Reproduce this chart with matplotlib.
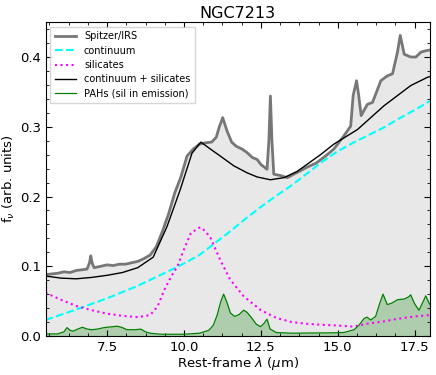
import matplotlib
matplotlib.use("Agg")
import matplotlib.pyplot as plt
from matplotlib.ticker import AutoMinorLocator
import numpy as np

# ---------------------------------------------------------------------
# Data
# ---------------------------------------------------------------------
IRS_WAVE = [5.5, 5.7, 5.9, 6.1, 6.3, 6.5, 6.7, 6.85, 6.93, 6.97, 7.02, 7.08,
            7.3, 7.5, 7.7, 7.9, 8.1, 8.3, 8.5, 8.7, 8.9, 9.1, 9.3, 9.5, 9.7,
            9.9, 10.1, 10.3, 10.5, 10.7, 10.9, 11.05, 11.15, 11.26, 11.4,
            11.55, 11.7, 11.89, 12.05, 12.22, 12.38, 12.5, 12.7, 12.76, 12.81,
            12.86, 12.92, 13.14, 13.36, 13.57, 13.79, 14.0, 14.3, 14.6, 14.87,
            15.2, 15.42, 15.5, 15.61, 15.68, 15.76, 15.96, 16.13, 16.4, 16.61,
            16.78, 16.94, 17.03, 17.16, 17.37, 17.54, 17.7, 17.86, 18.0]
IRS_FLUX = [0.088, 0.089, 0.090, 0.092, 0.091, 0.094, 0.095, 0.096, 0.105,
            0.115, 0.104, 0.098, 0.100, 0.102, 0.101, 0.103, 0.103, 0.105,
            0.107, 0.111, 0.116, 0.128, 0.150, 0.175, 0.205, 0.228, 0.258,
            0.268, 0.275, 0.277, 0.278, 0.285, 0.300, 0.313, 0.294, 0.278,
            0.272, 0.268, 0.263, 0.256, 0.253, 0.246, 0.239, 0.280, 0.344,
            0.280, 0.232, 0.230, 0.227, 0.232, 0.237, 0.242, 0.248, 0.258,
            0.268, 0.287, 0.301, 0.345, 0.366, 0.345, 0.316, 0.332, 0.335,
            0.366, 0.373, 0.376, 0.407, 0.431, 0.404, 0.400, 0.400, 0.407,
            0.409, 0.410]

CONT_WAVE = [5.5, 6.5, 7.5, 8.5, 9.5, 10.0, 10.5, 11.0, 11.5, 12.0, 12.5,
             13.0, 13.5, 14.0, 14.5, 15.0, 15.5, 16.0, 16.5, 17.0, 17.5, 18.0]
CONT_FLUX = [0.023, 0.038, 0.054, 0.072, 0.093, 0.104, 0.116, 0.133, 0.150,
             0.168, 0.185, 0.201, 0.216, 0.233, 0.250, 0.265, 0.277, 0.288,
             0.299, 0.312, 0.324, 0.337]

SIL_WAVE = [5.5, 6.0, 6.5, 7.0, 7.5, 8.0, 8.5, 8.9, 9.14, 9.36, 9.58, 9.79,
            10.0, 10.23, 10.53, 10.7, 10.86, 11.18, 11.5, 11.94, 12.5, 13.0,
            13.5, 14.0, 14.5, 15.0, 15.5, 16.0, 16.5, 17.0, 17.5, 18.0]
SIL_FLUX = [0.062, 0.052, 0.043, 0.037, 0.032, 0.029, 0.027, 0.030, 0.042,
            0.066, 0.085, 0.100, 0.124, 0.148, 0.156, 0.150, 0.141, 0.109,
            0.081, 0.057, 0.037, 0.026, 0.020, 0.0175, 0.016, 0.015, 0.0135,
            0.018, 0.021, 0.025, 0.028, 0.030]

TOT_WAVE = [5.5, 6.0, 6.5, 7.0, 7.5, 8.0, 8.5, 9.0, 9.45, 9.88, 10.26, 10.55,
            10.86, 11.18, 11.62, 12.05, 12.38, 12.81, 13.25, 13.68, 14.44,
            14.87, 15.64, 16.5, 17.37, 17.92, 18.0]
TOT_FLUX = [0.086, 0.083, 0.082, 0.084, 0.087, 0.091, 0.098, 0.113, 0.157,
            0.210, 0.262, 0.278, 0.268, 0.258, 0.244, 0.234, 0.228, 0.224,
            0.227, 0.236, 0.260, 0.275, 0.296, 0.330, 0.359, 0.371, 0.372]

PAH_WAVE = [5.5, 5.9, 6.1, 6.2, 6.3, 6.4, 6.55, 6.7, 6.85, 7.0, 7.2, 7.4, 7.6,
            7.84, 8.0, 8.15, 8.4, 8.6, 8.75, 8.9, 9.25, 10.0, 10.5, 10.8,
            10.95, 11.08, 11.2, 11.29, 11.4, 11.51, 11.65, 11.8, 11.94, 12.05,
            12.2, 12.35, 12.49, 12.6, 12.7, 12.8, 13.0, 13.5, 14.12, 14.77,
            15.2, 15.53, 15.7, 15.85, 15.95, 16.07, 16.23, 16.35, 16.47, 16.61,
            16.75, 16.94, 17.16, 17.3, 17.37, 17.5, 17.64, 17.75, 17.86,
            17.97, 18.0]
PAH_FLUX = [0.003, 0.003, 0.006, 0.012, 0.008, 0.007, 0.010, 0.0125, 0.010,
            0.009, 0.010, 0.012, 0.013, 0.014, 0.012, 0.009, 0.009, 0.0098,
            0.006, 0.004, 0.0025, 0.0025, 0.004, 0.008, 0.015, 0.030, 0.050,
            0.060, 0.048, 0.033, 0.028, 0.031, 0.037, 0.034, 0.026, 0.017,
            0.0134, 0.018, 0.024, 0.010, 0.005, 0.004, 0.0043, 0.0045, 0.005,
            0.009, 0.016, 0.025, 0.027, 0.023, 0.028, 0.045, 0.060, 0.045,
            0.047, 0.052, 0.053, 0.056, 0.059, 0.046, 0.037, 0.047, 0.0576,
            0.047, 0.045]


def main():
    fig = plt.figure(figsize=(4.36, 3.75), dpi=100)
    ax = fig.add_axes([0.1044, 0.104, 0.882, 0.837])

    ax.fill_between(IRS_WAVE, 0, IRS_FLUX, color="lightgray", alpha=0.5, lw=0)
    ax.plot(IRS_WAVE, IRS_FLUX, color="dimgray", lw=2, alpha=0.9,
            label="Spitzer/IRS")
    ax.plot(CONT_WAVE, CONT_FLUX, color="cyan", ls="--", lw=1.5,
            label="continuum")
    ax.plot(SIL_WAVE, SIL_FLUX, color="magenta", ls=":", lw=1.5,
            label="silicates")
    ax.plot(TOT_WAVE, TOT_FLUX, color="black", lw=1,
            label="continuum + silicates")
    ax.fill_between(PAH_WAVE, 0, PAH_FLUX, color="green", alpha=0.25, lw=0)
    ax.plot(PAH_WAVE, PAH_FLUX, color="green", lw=0.9,
            label="PAHs (sil in emission)")

    ax.set_xlim(5.5, 18.0)
    ax.set_ylim(0, 0.45)
    ax.set_xticks([7.5, 10.0, 12.5, 15.0, 17.5])
    ax.set_yticks([0.0, 0.1, 0.2, 0.3, 0.4])
    ax.xaxis.set_minor_locator(AutoMinorLocator(4))
    ax.yaxis.set_minor_locator(AutoMinorLocator(5))
    ax.tick_params(which="both", direction="in", top=True, right=True,
                   labelsize=9.5)
    ax.tick_params(which="major", length=4)
    ax.tick_params(which="minor", length=2)

    ax.set_xlabel(r"Rest-frame $\lambda$ ($\mu$m)", fontsize=9.5, labelpad=1)
    ax.set_ylabel(r"f$_\nu$ (arb. units)", fontsize=9.5, labelpad=2)
    ax.set_title("NGC7213", fontsize=11.5, pad=3)

    leg = ax.legend(loc="upper left", fontsize=7, frameon=True, fancybox=False,
                    handlelength=2.2, borderpad=0.45, labelspacing=0.45)
    leg.get_frame().set_edgecolor("0.8")

    fig.savefig("out.png", dpi=100)
    plt.close(fig)


if __name__ == "__main__":
    main()
